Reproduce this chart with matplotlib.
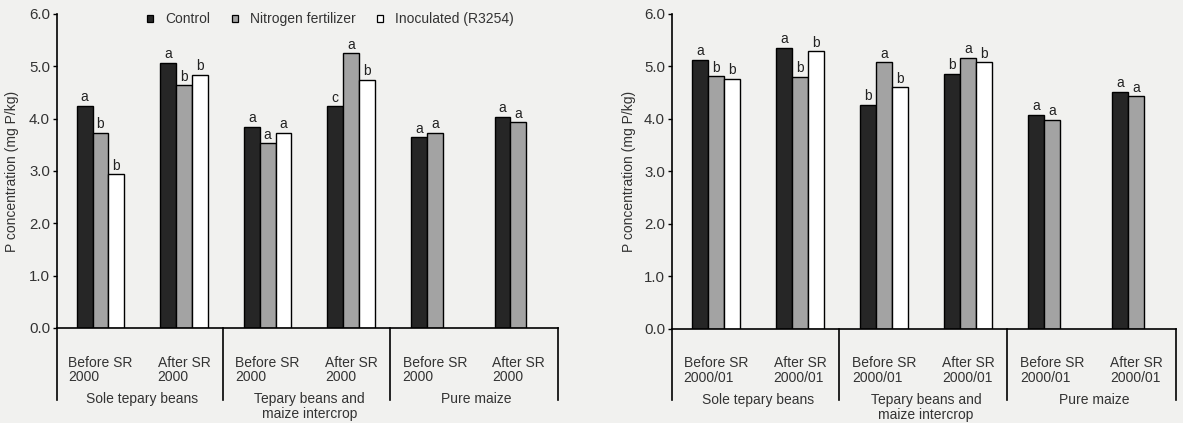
import matplotlib
matplotlib.use("Agg")
import matplotlib.pyplot as plt
import matplotlib.transforms as mtransforms
from matplotlib.patches import Patch
import numpy as np

plt.rcParams['font.family'] = ['Liberation Sans', 'DejaVu Sans']

series_names = ["Control", "Nitrogen fertilizer", "Inoculated (R3254)"]
left_ticks = ["Before SR\n2000", "After SR\n2000"] * 3
right_ticks = ["Before SR\n2000/01", "After SR\n2000/01"] * 3
systems = ["Sole tepary beans", "Tepary beans and\nmaize intercrop", "Pure maize"]

# Left panel (SR 2000)
left_control = [4.25, 5.07, 3.84, 4.24, 3.64, 4.03]
left_nitrogen = [3.73, 4.64, 3.53, 5.25, 3.73, 3.93]
left_inoc = [2.94, 4.84, 3.73, 4.74, None, None]
left_letters = [["a", "b", "b"], ["a", "b", "b"], ["a", "a", "a"],
                ["c", "a", "b"], ["a", "a", None], ["a", "a", None]]

# Right panel (SR 2000/01)
right_control = [5.13, 5.36, 4.27, 4.86, 4.08, 4.52]
right_nitrogen = [4.81, 4.80, 5.08, 5.16, 3.98, 4.43]
right_inoc = [4.76, 5.29, 4.60, 5.08, None, None]
right_letters = [["a", "b", "b"], ["a", "b", "b"], ["b", "a", "b"],
                 ["b", "a", "b"], ["a", "a", None], ["a", "a", None]]

bg = "#f1f1ef"
colors = ["#262626", "#a3a3a3", "#ffffff"]
fs = 10
tc = "#333333"

fig = plt.figure(figsize=(11.83, 4.23), dpi=100, facecolor=bg)
ax1 = fig.add_axes([0.0482, 0.2246, 0.4232, 0.7424])
ax2 = fig.add_axes([0.5681, 0.2230, 0.4260, 0.7440])

def draw(ax, ctrl, nit, inoc, letters, ticks, ylab_x):
    ax.set_facecolor(bg)
    x = np.arange(len(ctrl))
    w = 0.19
    for i, vals in enumerate([ctrl, nit, inoc]):
        for j, v in enumerate(vals):
            if v is None:
                continue
            xp = x[j] + (i - 1) * w
            ax.bar(xp, v, width=w, color=colors[i], edgecolor="black",
                   linewidth=1.0, zorder=2)
            lab = letters[j][i]
            if lab:
                ax.text(xp, v + 0.03, lab, ha="center", va="bottom",
                        fontsize=fs, color="#222222")
    ax.set_xlim(-0.52, 5.47)
    ax.set_ylim(0, 6.0)
    ax.set_yticks(np.arange(0, 6.01, 1.0))
    ax.set_yticklabels([f"{v:.1f}" for v in np.arange(0, 6.01, 1.0)],
                       fontsize=fs + 0.8, color=tc)
    ax.set_xticks(x)
    ax.set_xticklabels(ticks, fontsize=fs, color=tc,
                       multialignment="left", linespacing=1.05)
    ax.tick_params(axis="x", length=0, pad=20)
    ax.tick_params(axis="y", length=3, width=1, direction="out", pad=2)
    for s in ["top", "right"]:
        ax.spines[s].set_visible(False)
    ax.spines["left"].set_linewidth(1.2)
    ax.spines["bottom"].set_linewidth(1.2)
    ax.set_ylabel("P concentration (mg P/kg)", fontsize=fs, color=tc)
    ax.yaxis.set_label_coords(ylab_x, 0.5)
    trans = mtransforms.blended_transform_factory(ax.transData, ax.transAxes)
    for xd in [-0.52, 1.46, 3.46, 5.47]:
        ax.plot([xd, xd], [0, -0.228], transform=trans, color="black",
                lw=1.2, clip_on=False)
    centers = [0.5, 2.5, 4.5]
    for c, name in zip(centers, systems):
        ax.text(c, -0.205, name, transform=trans, ha="center", va="top",
                fontsize=fs, color=tc, linespacing=1.05)

draw(ax1, left_control, left_nitrogen, left_inoc, left_letters, left_ticks, -0.076)
draw(ax2, right_control, right_nitrogen, right_inoc, right_letters, right_ticks, -0.071)

handles = [Patch(facecolor=c, edgecolor="black", linewidth=0.9) for c in colors]
leg = ax1.legend(handles, series_names, loc="upper left",
                 bbox_to_anchor=(0.155, 1.045), ncol=3, frameon=False,
                 fontsize=fs, handlelength=0.45, handleheight=0.45,
                 handletextpad=0.85, columnspacing=1.55)
for t in leg.get_texts():
    t.set_color(tc)

fig.savefig("out.png", dpi=100, facecolor=bg)
